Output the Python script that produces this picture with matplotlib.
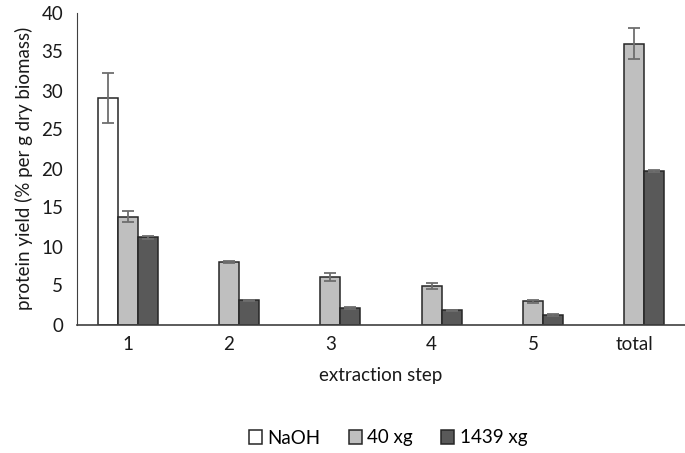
import numpy as np
import matplotlib.pyplot as plt

# data
steps = ["1", "2", "3", "4", "5", "total"]
naoh = [29.0, np.nan, np.nan, np.nan, np.nan, np.nan]
naoh_err = [3.2, 0, 0, 0, 0, 0]
xg40 = [13.8, 8.0, 6.1, 4.9, 3.0, 36.0]
xg40_err = [0.7, 0.15, 0.5, 0.4, 0.2, 2.0]
xg1439 = [11.2, 3.1, 2.1, 1.8, 1.25, 19.7]
xg1439_err = [0.2, 0.1, 0.1, 0.1, 0.15, 0.1]

plt.rcParams['font.family'] = ['Lato', 'DejaVu Sans']
fs = 13.5

fig = plt.figure(figsize=(6.85, 4.53), dpi=100)
ax = fig.add_axes([77 / 685, 128.5 / 453, 608 / 685, 312 / 453])

x = np.arange(len(steps))
w = 0.197
edge = "#262626"
err_kw = dict(ecolor="#6e6e6e", elinewidth=1.3, capsize=4.5, capthick=1.3)

ax.bar(x - w, naoh, w, yerr=naoh_err, color="white", edgecolor=edge,
       linewidth=1.1, error_kw=err_kw, label="NaOH")
ax.bar(x, xg40, w, yerr=xg40_err, color="#bfbfbf", edgecolor=edge,
       linewidth=1.1, error_kw=err_kw, label="40 xg")
ax.bar(x + w, xg1439, w, yerr=xg1439_err, color="#595959", edgecolor=edge,
       linewidth=1.1, error_kw=err_kw, label="1439 xg")

ax.set_xlim(-0.5, 5.5)
ax.set_ylim(0, 40)
ax.set_yticks(range(0, 41, 5))
ax.set_xticks(x)
ax.set_xticklabels(steps)
ax.tick_params(axis="both", length=0, labelsize=fs, colors="#1a1a1a")
ax.tick_params(axis="y", pad=10)
ax.tick_params(axis="x", pad=8)

for s in ["top", "right"]:
    ax.spines[s].set_visible(False)
ax.spines["left"].set_color("#404040")
ax.spines["bottom"].set_color("#404040")
ax.spines["bottom"].set_linewidth(1.2)

ax.set_xlabel("extraction step", fontsize=fs, labelpad=10, color="#1a1a1a")
ax.set_ylabel("protein yield (% per g dry biomass)", fontsize=fs,
              labelpad=6, color="#1a1a1a")

fig.legend(loc="center", bbox_to_anchor=(388 / 685, 1 - 438 / 453), ncol=3,
           frameon=False, fontsize=fs, handlelength=0.7, handleheight=0.7,
           handletextpad=0.3, columnspacing=1.5)

fig.savefig("out.png", dpi=100)
